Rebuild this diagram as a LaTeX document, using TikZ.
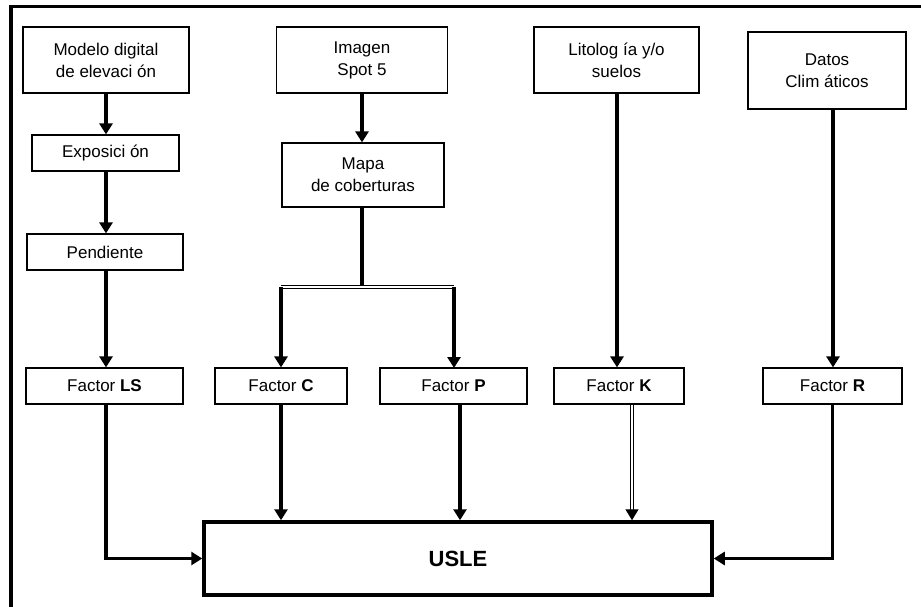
\documentclass[tikz,border=0pt]{standalone}
\usepackage{fontspec}
\setmainfont{Liberation Sans}
\usepackage{tikz}
\usetikzlibrary{arrows.meta,positioning}
\tikzstyle{box}=[
	draw=black,
	line width=1.2pt,
	inner sep=0pt,
	align=center,
	font=\fontsize{17}{22}\selectfont
]
\tikzstyle{fbox}=[
	box,
	minimum height=36pt
]
\tikzstyle{flow}=[
	draw=black,
	line width=3.5pt,
	-{Triangle[width=13pt,length=11pt]}
]
\tikzstyle{flowd}=[
	draw=black,
	line width=1.4pt,
	double,
	double distance=1.4pt,
	-{Triangle[width=13pt,length=11pt]}
]

\begin{document}
\begin{tikzpicture}[x=1pt,y=-1pt]
\useasboundingbox (0,0) rectangle (921,607);
\draw[line width=3.5pt] (11,607) -- (11,6.5) -- (921,6.5);

\node[box, minimum width=166pt, minimum height=66pt] (dem) at (106,60) {Modelo digital\\de elevaci ón};
\node[fbox, minimum width=147pt] (expo) at (105.5,153) {Exposici ón};
\node[fbox, minimum width=156pt] (pend) at (105,252) {Pendiente};
\node[box, minimum width=171pt, minimum height=66pt] (img) at (362,60) {Imagen\\Spot 5};
\node[box, minimum width=162pt, minimum height=64pt] (mapa) at (363,175) {Mapa\\de coberturas};
\node[box, minimum width=165pt, minimum height=66pt] (lito) at (616.5,60) {Litolog ía y/o\\suelos};
\node[box, minimum width=158pt, minimum height=77pt] (datos) at (827,70.5) {Datos\\Clim áticos};

\node[fbox, minimum width=157pt] (ls) at (104.5,386) {Factor \textbf{LS}};
\node[fbox, minimum width=132pt] (c) at (281,386) {Factor \textbf{C}};
\node[fbox, minimum width=147pt] (p) at (453.5,386) {Factor \textbf{P}};
\node[fbox, minimum width=130pt] (k) at (619,386) {Factor \textbf{K}};
\node[fbox, minimum width=139pt] (r) at (832.5,386) {Factor \textbf{R}};

\node[box, line width=3.5pt, minimum width=508pt, minimum height=73pt,
      font=\fontsize{22}{26}\selectfont\bfseries] (usle) at (458,558.5) {USLE};

\coordinate (br) at (362,287);

\draw[flow] (dem.south) -- (dem.south |- expo.north);
\draw[flow] (dem.south |- expo.south) -- (dem.south |- pend.north);
\draw[flow] (dem.south |- pend.south) -- (dem.south |- ls.north);
\draw[flow] (dem.south |- ls.south) |- (usle.west);

\draw[flow] (img.south) -- (img.south |- mapa.north);
\draw[line width=3.5pt] (mapa.south -| br) -- (br);
\draw[line width=1.4pt, double, double distance=1.4pt] (c.north |- br) -- (br -| 454,0);
\draw[flow] (c.north |- br) -- (c.north);
\draw[flow] (br -| 454,0) -- (454,368);
\draw[flow] (c.south) -- (c.south |- usle.north);
\draw[flow] ([xshift=6.5pt]p.south) -- ([xshift=6.5pt]p.south |- usle.north);

\draw[flow] ([xshift=0.5pt]lito.south) -- ([xshift=0.5pt]lito.south |- k.north);
\draw[flowd] ([xshift=13pt]k.south) -- ([xshift=13pt]k.south |- usle.north);

\draw[flow] ([xshift=6pt]datos.south) -- ([xshift=6pt]datos.south |- r.north);
\draw[flow] (r.south) |- (usle.east);
\end{tikzpicture}
\end{document}
